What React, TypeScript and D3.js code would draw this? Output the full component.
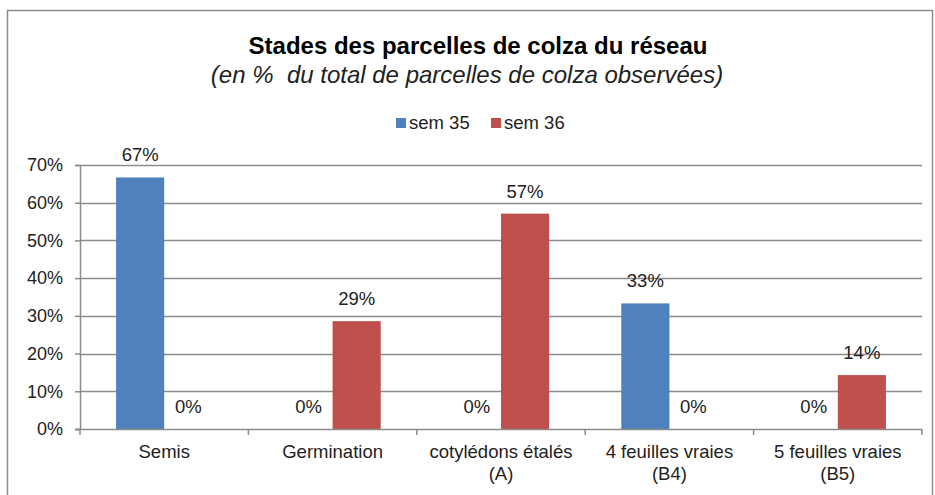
import React, { useEffect, useRef } from 'react';
import * as d3 from 'd3';

const categories = [
  ['Semis'],
  ['Germination'],
  ['cotylédons étalés', '(A)'],
  ['4 feuilles vraies', '(B4)'],
  ['5 feuilles vraies', '(B5)'],
];
const seriesNames = ['sem 35', 'sem 36'];
const sem35 = [0.667, 0, 0, 0.333, 0];
const sem36 = [0, 0.286, 0.571, 0, 0.143];
const yTicks = [0, 0.1, 0.2, 0.3, 0.4, 0.5, 0.6, 0.7];
const colors = ['#4F81BD', '#C0504D'];

const FONT = '"Liberation Sans", Arial, sans-serif';

const App = () => {
  const ref = useRef<SVGSVGElement>(null);

  useEffect(() => {
    const svg = d3.select(ref.current);
    svg.selectAll('*').remove();

    const width = 935;
    const height = 495;
    const margin = { top: 165, right: 13, bottom: 66, left: 80 };

    svg.attr('width', width).attr('height', height);

    // Chart border
    svg.append('rect')
      .attr('x', 7.5).attr('y', 10.5)
      .attr('width', 925).attr('height', 500)
      .attr('fill', '#fff')
      .attr('stroke', '#8c8c8c')
      .attr('stroke-width', 1.5);

    const x = d3.scaleBand<number>()
      .domain(categories.map((_, i) => i))
      .range([margin.left, width - margin.right])
      .paddingInner(0)
      .paddingOuter(0);

    const x1 = d3.scaleBand<number>()
      .domain([0, 1])
      .range([0, x.bandwidth()])
      .paddingOuter(0.75)
      .paddingInner(0);

    const y = d3.scaleLinear()
      .domain([0, 0.7])
      .range([height - margin.bottom, margin.top]);

    const g = svg.append('g');

    // Gridlines
    g.selectAll('line.grid')
      .data(yTicks.filter(d => d > 0))
      .enter()
      .append('line')
      .attr('x1', margin.left)
      .attr('x2', width - margin.right)
      .attr('y1', d => Math.round(y(d)) + 0.5)
      .attr('y2', d => Math.round(y(d)) + 0.5)
      .attr('stroke', '#8c8c8c')
      .attr('stroke-width', 1.5);

    // Y axis
    const yAxis = g.append('g')
      .attr('transform', `translate(${margin.left}, 0)`)
      .call(d3.axisLeft(y).tickValues(yTicks).tickFormat(d3.format('.0%')).tickSize(5).tickPadding(12));
    yAxis.select('.domain').attr('stroke', '#8c8c8c').attr('stroke-width', 1.5);
    yAxis.selectAll('.tick line').attr('stroke', '#8c8c8c').attr('stroke-width', 1.5);
    yAxis.selectAll('.tick text')
      .attr('font-family', FONT)
      .attr('font-size', '18px')
      .attr('fill', '#222');

    // Bars
    const series = [sem35, sem36];
    series.forEach((vals, s) => {
      g.selectAll(`rect.s${s}`)
        .data(vals)
        .enter()
        .append('rect')
        .attr('x', (_, i) => (x(i) as number) + (x1(s) as number))
        .attr('y', d => y(d))
        .attr('width', x1.bandwidth())
        .attr('height', d => y(0) - y(d))
        .attr('fill', colors[s]);

      g.selectAll(`text.l${s}`)
        .data(vals)
        .enter()
        .append('text')
        .attr('x', (_, i) => (x(i) as number) + (x1(s) as number) + x1.bandwidth() / 2)
        .attr('y', d => y(d) - 16)
        .attr('text-anchor', 'middle')
        .attr('font-family', FONT)
        .attr('font-size', '18.5px')
        .attr('fill', '#222')
        .text(d => d3.format('.0%')(d));
    });

    // X axis
    const xAxis = g.append('g')
      .attr('transform', `translate(0, ${y(0)})`);
    xAxis.append('line')
      .attr('x1', margin.left - 5).attr('x2', width - margin.right)
      .attr('y1', 0.5).attr('y2', 0.5)
      .attr('stroke', '#8c8c8c').attr('stroke-width', 1.5);
    const edges = d3.range(categories.length + 1).map(i =>
      i < categories.length ? (x(i) as number) : width - margin.right);
    xAxis.selectAll('line.tick')
      .data(edges)
      .enter()
      .append('line')
      .attr('x1', d => d).attr('x2', d => d)
      .attr('y1', 0).attr('y2', 6)
      .attr('stroke', '#8c8c8c').attr('stroke-width', 1.5);

    const catLabels = xAxis.selectAll('text.cat')
      .data(categories)
      .enter()
      .append('text')
      .attr('text-anchor', 'middle')
      .attr('font-family', FONT)
      .attr('font-size', '18.5px')
      .attr('fill', '#222')
      .attr('transform', (_, i) => `translate(${(x(i) as number) + x.bandwidth() / 2}, 29)`);
    catLabels.selectAll('tspan')
      .data(d => d)
      .enter()
      .append('tspan')
      .attr('x', 0)
      .attr('dy', (_, i) => (i === 0 ? 0 : 22))
      .text(d => d);

    // Title
    svg.append('text')
      .attr('x', 478).attr('y', 54)
      .attr('text-anchor', 'middle')
      .attr('font-family', FONT)
      .attr('font-weight', 'bold')
      .attr('font-size', '24px')
      .attr('fill', '#000')
      .text('Stades des parcelles de colza du réseau');

    svg.append('text')
      .attr('x', 467).attr('y', 83)
      .attr('text-anchor', 'middle')
      .attr('font-family', FONT)
      .attr('font-style', 'italic')
      .attr('font-size', '24px')
      .attr('fill', '#222')
      .style('white-space', 'pre')
      .text('(en %  du total de parcelles de colza observées)');

    // Legend
    const legend = svg.append('g');
    const legendX = [396, 491];
    seriesNames.forEach((name, i) => {
      legend.append('rect')
        .attr('x', legendX[i]).attr('y', 118)
        .attr('width', 10).attr('height', 10)
        .attr('fill', colors[i]);
      legend.append('text')
        .attr('x', legendX[i] + 13).attr('y', 128.5)
        .attr('font-family', FONT)
        .attr('font-size', '18.5px')
        .attr('fill', '#222')
        .text(name);
    });
  }, []);

  return <svg ref={ref} style={{ position: 'absolute', left: 0, top: 0 }}></svg>;
};

export default App;
